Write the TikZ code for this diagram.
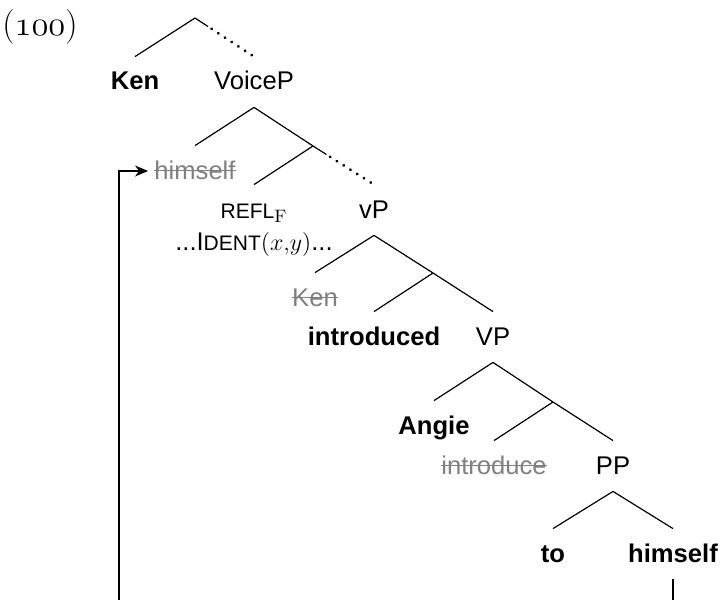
\documentclass[tikz,border=0pt]{standalone}
\usepackage[no-math]{fontspec}
\setmainfont{Liberation Sans}
\usetikzlibrary{arrows.meta,calc}
\definecolor{delgray}{RGB}{128,128,128}
\newcommand\mainsz{\fontsize{12.8}{15}\selectfont}
\newcommand\scsz{\fontsize{10.5}{12}\selectfont}
\tikzset{
  lab/.style={anchor=base, inner xsep=0pt, inner ysep=0pt, text height=16.5pt, text depth=8.5pt, font=\mainsz},
  bflab/.style={lab, font=\mainsz\bfseries},
  dellab/.style={lab, text=delgray},
  br/.style={line width=0.6pt},
  dotbr/.style={line width=1.5pt, line cap=round, dash pattern=on 0.1pt off 3.9pt},
  strike/.style={delgray, line width=0.7pt},
}
\begin{document}
\begin{tikzpicture}[x=0.5pt,y=-0.5pt]
\useasboundingbox (0,0) rectangle (722,599);
\clip (0,0) rectangle (722,599);
% example number
\node[anchor=base, inner sep=0pt, font=\fontsize{16}{18}\selectfont] (num) at (40,36) {$(\mathnormal{100})$};
% top level
\coordinate (top) at (195,18);
\node[bflab] (ken) at (135,90) {Ken};
\node[lab] (voicep) at (254,90) {VoiceP};
\draw[br] (top) -- (ken.north);
\draw[br] (top) -- ($(top)!0.22!(voicep.north)$);
\draw[dotbr] ($(top)!0.28!(voicep.north)$) -- (voicep.north);
% VoiceP
\node[dellab] (himA) at (195,179) {himself};
\coordinate (X) at (313,146);
\draw[br] (voicep.south) -- (himA.north);
\draw[br] (voicep.south) -- (X);
% X
\node[lab] (refl) at (254,218) {{\scsz REFL}$_{\mathrm{F}}$};
\node[lab] (ident) at (254,250) {...I{\scsz DENT}$(x{,}y)$...};
\node[lab] (vp) at (374,218) {vP};
\draw[br] (X) -- (refl.north);
\draw[br] (X) -- ($(X)!0.22!(vp.north)$);
\draw[dotbr] ($(X)!0.28!(vp.north)$) -- (vp.north);
% vP
\node[dellab] (kenB) at (315,306) {Ken};
\coordinate (Y) at (433,273);
\draw[br] (vp.south) -- (kenB.north);
\draw[br] (vp.south) -- (Y);
% Y
\node[bflab] (introduced) at (374,345) {introduced};
\node[lab] (VP) at (493,345) {VP};
\draw[br] (Y) -- (introduced.north);
\draw[br] (Y) -- (VP.north);
% VP
\node[bflab] (angie) at (434,434) {Angie};
\coordinate (Z) at (553,402);
\draw[br] (VP.south) -- (angie.north);
\draw[br] (VP.south) -- (Z);
% Z
\node[dellab] (introduce) at (494,474) {introduce};
\node[lab] (PP) at (613,474) {PP};
\draw[br] (Z) -- (introduce.north);
\draw[br] (Z) -- (PP.north);
% PP
\node[bflab] (to) at (553,562) {to};
\node[bflab] (himB) at (673,562) {himself};
\draw[br] (PP.south) -- (to.north);
\draw[br] (PP.south) -- (himB.north);
% strikes
\foreach \n in {himA,kenB,introduce}{
  \draw[strike] ([yshift=4.2pt]\n.base west) -- ([yshift=4.2pt]\n.base east);
}
% movement arrow
\coordinate (corner) at (119,650);
\draw[br, -{Stealth[length=6.5pt,width=5.5pt,inset=2pt]}, shorten >=3pt] (himB.south) |- (corner) |- (himA.west);
\end{tikzpicture}
\end{document}
